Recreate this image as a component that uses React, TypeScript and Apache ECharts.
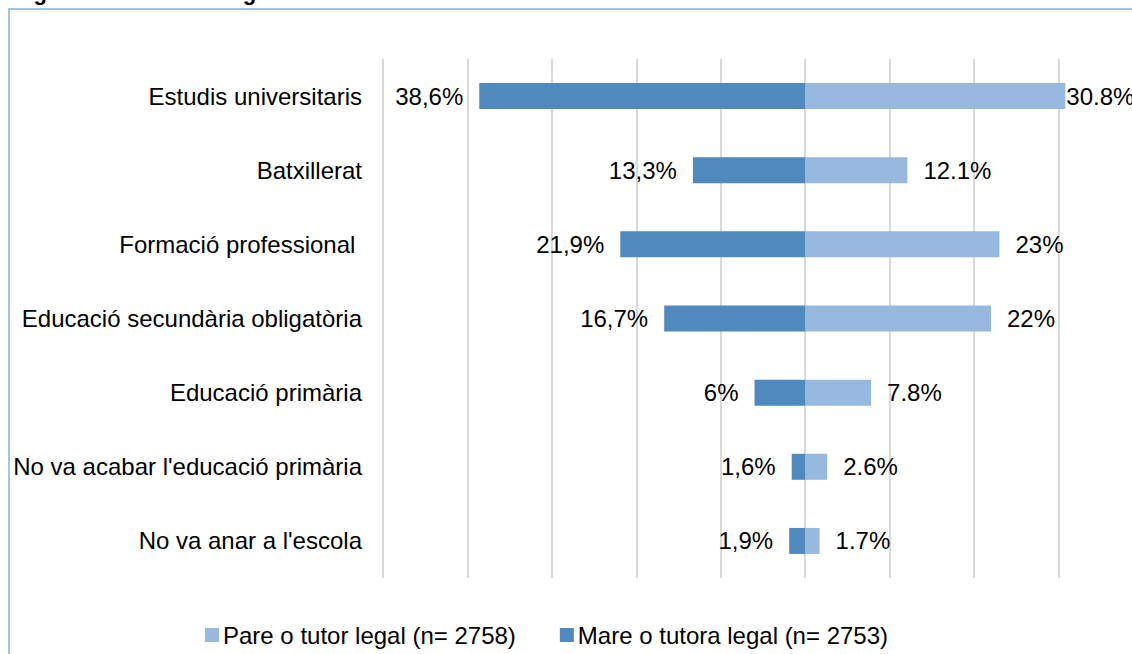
import React, { useEffect, useRef } from "react";
import * as echarts from "echarts";

const categories = [
  "Estudis universitaris",
  "Batxillerat",
  "Formació professional ",
  "Educació secundària obligatòria",
  "Educació primària",
  "No va acabar l'educació primària",
  "No va anar a l'escola",
];
const mareValues = [38.6, 13.3, 21.9, 16.7, 6, 1.6, 1.9];
const mareLabels = ["38,6%", "13,3%", "21,9%", "16,7%", "6%", "1,6%", "1,9%"];
const pareValues = [30.8, 12.1, 23, 22, 7.8, 2.6, 1.7];
const pareLabels = ["30.8%", "12.1%", "23%", "22%", "7.8%", "2.6%", "1.7%"];
const pareName = "Pare o tutor legal (n= 2758)";
const mareName = "Mare o tutora legal (n= 2753)";
const titleText = "Figura 3.12. Percentatges.";

const FONT = "'Liberation Sans', Arial, sans-serif";
const DARK = "#4F89BD";
const LIGHT = "#97B9E0";

export default function App() {
  const ref = useRef<HTMLDivElement>(null);
  useEffect(() => {
    if (!ref.current) return;
    const chart = echarts.init(ref.current, undefined, { renderer: "svg" });
    chart.setOption({
      animation: false,
      backgroundColor: "#ffffff",
      textStyle: { fontFamily: FONT },
      graphic: [
        {
          type: "rect",
          shape: { x: 9, y: 9, width: 1300, height: 800 },
          style: { fill: "none", stroke: "#A3C3E6", lineWidth: 2 },
          silent: true,
        },
        {
          type: "text",
          x: 14,
          y: -19,
          style: {
            text: titleText,
            font: `bold 22px ${FONT}`,
            fill: "#000",
          },
          silent: true,
        },
      ],
      legend: {
        data: [pareName, mareName],
        left: 200,
        top: 618,
        icon: "rect",
        itemWidth: 14,
        itemHeight: 14,
        itemGap: 44,
        textStyle: { fontSize: 24, color: "#000", fontFamily: FONT, padding: [0, 0, 0, -1] },
      },
      grid: {
        left: 383,
        top: 59,
        width: 760,
        height: 519,
        outerBoundsMode: "none",
        containLabel: false,
      },
      xAxis: {
        type: "value",
        min: -50,
        max: 40,
        interval: 10,
        axisLabel: { show: false },
        axisLine: { show: false },
        axisTick: { show: false },
        splitLine: { show: true, lineStyle: { color: "#D9D9D9", width: 2 } },
      },
      yAxis: {
        type: "category",
        inverse: true,
        data: categories,
        axisLine: { show: false },
        axisTick: { show: false },
        axisLabel: { fontSize: 24, color: "#000", margin: 21, fontFamily: FONT },
      },
      series: [
        {
          name: pareName,
          type: "bar",
          stack: "total",
          barWidth: 26,
          itemStyle: { color: LIGHT },
          label: {
            show: true,
            position: "right",
            distance: 16,
            fontSize: 24,
            color: "#000",
            fontFamily: FONT,
            formatter: (p: any) => pareLabels[p.dataIndex],
          },
          data: pareValues.map((v, i) =>
            i === 0 ? { value: v, label: { distance: 1 } } : v
          ),
        },
        {
          name: mareName,
          type: "bar",
          stack: "total",
          barWidth: 26,
          itemStyle: { color: DARK },
          label: {
            show: true,
            position: "left",
            distance: 16,
            fontSize: 24,
            color: "#000",
            fontFamily: FONT,
            formatter: (p: any) => mareLabels[p.dataIndex],
          },
          data: mareValues.map((v) => -v),
        },
      ],
    });
    return () => chart.dispose();
  }, []);
  return (
    <div
      ref={ref}
      style={{ position: "absolute", left: 0, top: 0, width: 1132, height: 654 }}
    />
  );
}
